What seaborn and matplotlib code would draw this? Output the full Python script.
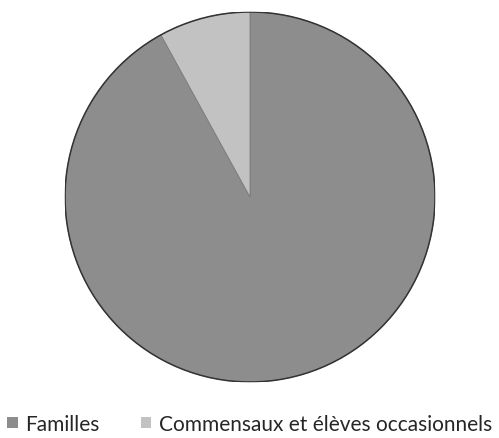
import matplotlib
matplotlib.use("Agg")
import matplotlib.pyplot as plt
import seaborn as sns
from matplotlib.patches import Patch, Circle

categories = ["Familles", "Commensaux et élèves occasionnels"]
shares = [92, 8]
colors = ["#8d8d8d", "#c2c2c2"]

sns.set_theme(style="white")
plt.rcParams["font.family"] = ["Lato", "DejaVu Sans"]

fig = plt.figure(figsize=(4.99, 4.39), dpi=100)
ax = fig.add_axes([0.1303, 0.1276, 0.7415, 0.8428])
ax.pie(shares, colors=colors, startangle=90, counterclock=False,
       wedgeprops=dict(edgecolor="#7a7a7a", linewidth=0.6),
       radius=1.0)
# darker rim around the whole disc
ax.add_patch(Circle((0, 0), 1.0, fill=False, edgecolor="#333333", linewidth=1.1))
ax.set_xlim(-1.0, 1.0)
ax.set_ylim(-1.0, 1.0)
ax.set_aspect("equal")
ax.axis("off")

handles = [Patch(facecolor=c, edgecolor="none") for c in colors]
fig.legend(handles, categories, loc="center", bbox_to_anchor=(0.5, 0.032),
           ncol=2, frameon=False, fontsize=15.0, handlelength=0.5,
           handleheight=0.5, handletextpad=0.35, columnspacing=2.0,
           borderaxespad=0, borderpad=0)

fig.savefig("out.png", dpi=100, facecolor="white")
